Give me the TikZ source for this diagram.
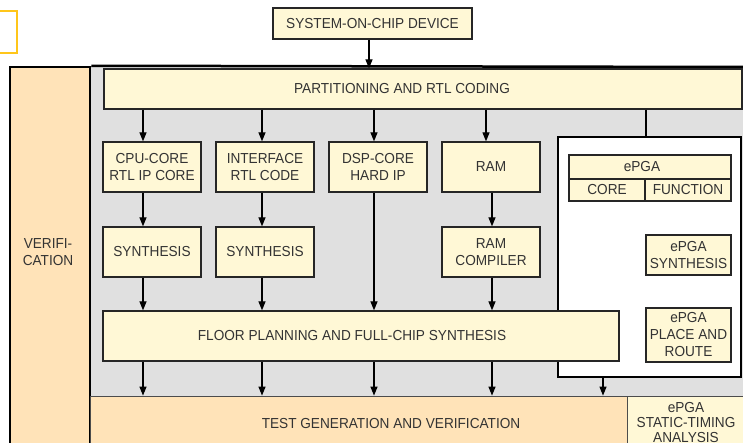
\documentclass[tikz,border=0pt]{standalone}
\usepackage{fontspec}
\setmainfont{Liberation Sans}[FakeStretch=0.94]
\usetikzlibrary{arrows.meta}
\definecolor{lyel}{HTML}{FFF8D6}
\definecolor{lorange}{HTML}{FFE3B8}
\definecolor{panelgray}{HTML}{E0E0E0}
\definecolor{txt}{HTML}{333333}
\definecolor{gold}{HTML}{FFC61A}

\begin{document}
\begin{tikzpicture}[x=1pt,y=-1pt,
  every node/.style={font=\fontsize{14.5}{17}\selectfont, text=txt},
  box/.style={draw=black!85, fill=lyel, line width=1.3pt, inner sep=0pt, align=center},
  arr/.style={line width=1.2pt, -{Triangle[length=9pt,width=7pt]}},
  link/.style={line width=1.2pt}]
\useasboundingbox (0,0) rectangle (743,442);
\clip (0,0) rectangle (743,442);

% small gold frame at the top left
\draw[gold, line width=2pt, fill=white] (-5,11) rectangle (17,53);

% grey design area and verification column
\fill[panelgray] (90,67) rectangle (745,396);
\node[draw=black, line width=2.5pt, fill=lorange, minimum width=80pt, minimum height=385pt,
      inner sep=0pt,
      label={[align=center, xshift=-2pt, yshift=7pt]center:VERIFI-\\CATION}] (verif) at (50,259.5) {};
\coordinate (frameend) at (745,67);
\draw[line width=2.5pt] (verif.north east) -- (frameend);

% bottom row
\node[draw=black!70, line width=0.8pt, fill=lorange, minimum width=537pt, minimum height=56pt,
      inner sep=0pt,
      label={[xshift=32.5pt, yshift=1pt]center:TEST GENERATION AND VERIFICATION}] (test) at (358.5,424) {};
\node[draw=black!70, line width=0.8pt, fill=lyel, minimum width=118pt, minimum height=56pt,
      inner sep=0pt,
      label={[align=center, font=\fontsize{14.5}{15}\selectfont, yshift=2pt]center:ePGA\\STATIC-TIMING\\ANALYSIS}] (sta) at (686,424) {};

% ePGA panel
\node[draw=black, line width=1.3pt, fill=white, minimum width=183pt, minimum height=240pt,
      inner sep=0pt] (epanel) at (649.5,257) {};

% top blocks
\node[box, minimum width=199pt, minimum height=31pt] (soc) at (372.5,23.5) {SYSTEM-ON-CHIP DEVICE};
\node[box, minimum width=638pt, minimum height=40pt,
      label={[xshift=-21pt]center:PARTITIONING AND RTL CODING}] (part) at (423,89) {};

% first row
\node[box, minimum width=98pt, minimum height=50pt] (cpu) at (152,167) {CPU-CORE\\RTL IP CORE};
\node[box, minimum width=98pt, minimum height=50pt] (intf) at (265,167) {INTERFACE\\RTL CODE};
\node[box, minimum width=98pt, minimum height=50pt] (dsp) at (378,167) {DSP-CORE\\HARD IP};
\node[box, minimum width=98pt, minimum height=50pt] (ram) at (491,167) {RAM};

% second row
\node[box, minimum width=98pt, minimum height=50pt] (syn1) at (152,252) {SYNTHESIS};
\node[box, minimum width=98pt, minimum height=50pt] (syn2) at (265,252) {SYNTHESIS};
\node[box, minimum width=98pt, minimum height=50pt] (ramc) at (491,252) {RAM\\COMPILER};

% floor planning
\node[box, minimum width=516pt, minimum height=50pt,
      label={[xshift=-9pt]center:FLOOR PLANNING AND FULL-CHIP SYNTHESIS}] (floor) at (361,336) {};

% ePGA contents
\node[box, minimum width=162pt, minimum height=24pt,
      label={[xshift=-8pt]center:ePGA}] (ehead) at (650,167) {};
\node[box, minimum width=76pt, minimum height=22pt] (ecore) at (607,190) {CORE};
\node[box, minimum width=86pt, minimum height=22pt] (efunc) at (688,190) {FUNCTION};
\node[box, minimum width=85pt, minimum height=40pt] (esyn) at (688.5,255) {ePGA\\SYNTHESIS};
\node[box, minimum width=85pt, minimum height=54pt] (epr) at (688.5,335) {ePGA\\PLACE AND\\ROUTE};

% connector columns
\coordinate (c0) at (369,0);
\coordinate (c1) at (143,0);
\coordinate (c2) at (262,0);
\coordinate (c3) at (374,0);
\coordinate (c4) at (486,0);
\coordinate (c4b) at (492,0);
\coordinate (c5) at (646,0);
\coordinate (c6) at (603,0);

\draw[arr] (soc.south -| c0) -- (part.north -| c0);
\draw[arr] (part.south -| c1) -- (cpu.north -| c1);
\draw[arr] (part.south -| c2) -- (intf.north -| c2);
\draw[arr] (part.south -| c3) -- (dsp.north -| c3);
\draw[arr] (part.south -| c4) -- (ram.north -| c4);
\draw[link] (part.south -| c5) -- (epanel.north -| c5);

\draw[arr] (cpu.south -| c1) -- (syn1.north -| c1);
\draw[arr] (intf.south -| c2) -- (syn2.north -| c2);
\draw[arr] (ram.south -| c4b) -- (ramc.north -| c4b);

\draw[arr] (syn1.south -| c1) -- (floor.north -| c1);
\draw[arr] (syn2.south -| c2) -- (floor.north -| c2);
\draw[arr] (dsp.south -| c3) -- (floor.north -| c3);
\draw[arr] (ramc.south -| c4b) -- (floor.north -| c4b);

\draw[arr] (floor.south -| c1) -- (test.north -| c1);
\draw[arr] (floor.south -| c2) -- (test.north -| c2);
\draw[arr] (floor.south -| c3) -- (test.north -| c3);
\draw[arr] (floor.south -| c4b) -- (test.north -| c4b);
\draw[arr] (epanel.south -| c6) -- (test.north -| c6);
\end{tikzpicture}
\end{document}
